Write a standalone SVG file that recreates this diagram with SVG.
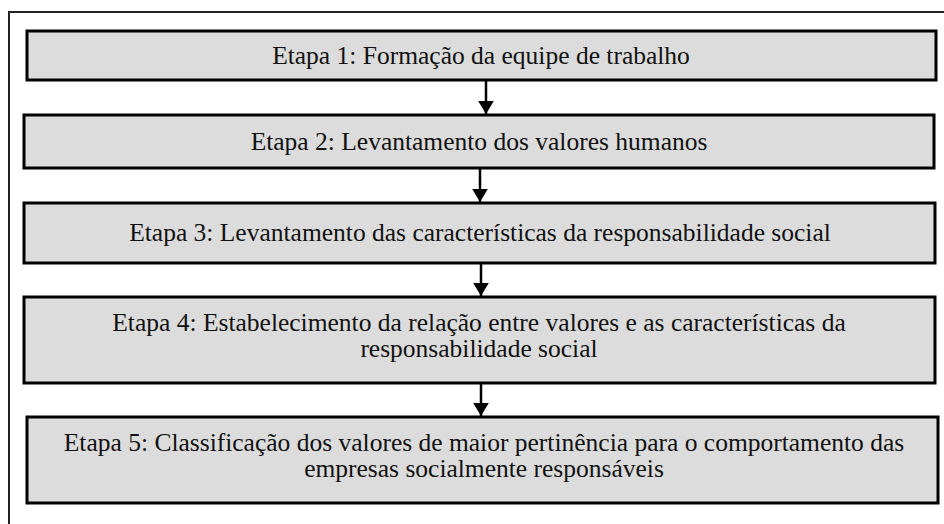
<svg xmlns="http://www.w3.org/2000/svg" width="944" height="524" viewBox="0 0 944 524">
<style>
.box{fill:#dcdcdc;stroke:#000;stroke-width:3}
.t{font-family:'Liberation Serif','Times New Roman',serif;font-size:25.5px;fill:#111;text-anchor:middle}
.c{stroke:#000;stroke-width:2.5;fill:none}
.frame{stroke:#222;stroke-width:2;fill:none}
</style>
<defs>
<marker id="ah" viewBox="0 0 10 12" refX="10" refY="6" markerWidth="5.2" markerHeight="6.4" orient="auto" markerUnits="strokeWidth">
<path d="M0,0 L10,6 L0,12 Z" fill="#000"/>
</marker>
</defs>
<rect width="944" height="524" fill="#fff"/>
<path class="frame" d="M9,524 V12 H944"/>
<g id="etapa1"><rect class="box" x="27" y="31" width="909" height="49"/><text class="t" x="481" y="64">Etapa 1: Formação da equipe de trabalho</text></g>
<g id="etapa2"><rect class="box" x="24" y="115" width="910" height="53"/><text class="t" x="479" y="150">Etapa 2: Levantamento dos valores humanos</text></g>
<g id="etapa3"><rect class="box" x="24" y="203" width="911" height="60"/><text class="t" x="480" y="241">Etapa 3: Levantamento das características da responsabilidade social</text></g>
<g id="etapa4"><rect class="box" x="24" y="297" width="911" height="86"/><text class="t" x="479" y="331">Etapa 4: Estabelecimento da relação entre valores e as características da<tspan x="479" y="357">responsabilidade social</tspan></text></g>
<g id="etapa5"><rect class="box" x="27" y="417" width="911" height="86"/><text class="t" x="484" y="451">Etapa 5: Classificação dos valores de maior pertinência para o comportamento das<tspan x="484" y="477">empresas socialmente responsáveis</tspan></text></g>
<g id="connectors">
<line class="c" x1="486" y1="80" x2="486" y2="114" marker-end="url(#ah)"/>
<line class="c" x1="480" y1="168" x2="480" y2="202" marker-end="url(#ah)"/>
<line class="c" x1="481" y1="263" x2="481" y2="296" marker-end="url(#ah)"/>
<line class="c" x1="481" y1="383" x2="481" y2="416" marker-end="url(#ah)"/>
</g>
</svg>
